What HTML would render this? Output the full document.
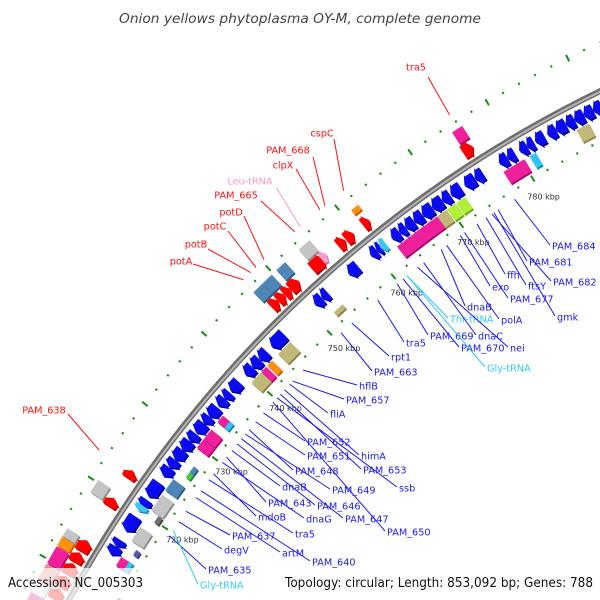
<!DOCTYPE html>
<html><head><meta charset="utf-8"><style>
html,body{margin:0;padding:0;background:#fff;width:600px;height:600px;overflow:hidden}
svg{display:block;overflow:hidden}
text{font-family:"DejaVu Sans","Liberation Sans",sans-serif}
</style></head><body>
<svg id="map" width="600" height="600" viewBox="0 0 600 600" xmlns="http://www.w3.org/2000/svg">
<defs><clipPath id="clip"><rect x="0" y="0" width="600" height="600"/></clipPath></defs>
<g id="plot" clip-path="url(#clip)"></g>
<text x="300" y="23" text-anchor="middle" font-size="13" font-style="italic" fill="#444" textLength="362" lengthAdjust="spacingAndGlyphs">Onion yellows phytoplasma OY-M, complete genome</text>
<rect x="0" y="568" width="150" height="32" fill="#fff" opacity="0.72"/>
<rect x="280" y="568" width="320" height="32" fill="#fff" opacity="0.72"/>
<text x="8" y="587" font-size="13" fill="#111" textLength="135" lengthAdjust="spacingAndGlyphs">Accession: NC_005303</text>
<text x="285" y="587" font-size="13" fill="#111" textLength="308" lengthAdjust="spacingAndGlyphs">Topology: circular; Length: 853,092 bp; Genes: 788</text>
</svg>
<script>
// ---- data (kbp) ----
const genomeKbp = 853.092;
const fwdArrowStart=[706.5,708,709.6,711.2,712.6,718.5,722.3,747.3,748.3,749.3,750.2,753.5,757.4,758.5,761,774.8];
const fwdArrowEnd=[707.8,709.4,711,712.4,714,719.6,723.3,748.3,749.3,750.2,751.5,755.3,758.4,759.6,761.9,776.1];
const trnaFwdStart=[755.0];
const trnaFwdEnd=[755.8];
const revArrowStart=[714.0,715.1,717.2,720.5,721.9,724.8,726.0,727.1,728.5,729.8,731.0,732.4,733.4,735.0,736.1,737.2,739.7,740.9,742.1,744.1,751.0,752.1,756.2,759.5,760.4,762.6,763.7,764.6,765.8,767.0,768.4,769.8,771.0,772.9,774.3,777.6,778.7,780.3,781.3,782.4,784.0,785.1,786.4,787.5,788.7,789.9,791.0,792.2];
const revArrowEnd=[715.1,716.0,719.2,721.5,723.9,726.0,727.1,728.5,729.8,730.9,732.4,733.4,734.8,736.1,737.0,738.6,740.9,742.1,743.3,746.1,752.1,753.0,757.6,760.4,761.0,763.7,764.6,765.8,767.0,768.4,769.8,770.9,772.4,774.3,775.4,778.7,779.7,781.3,782.2,783.6,785.1,786.4,787.5,788.7,789.9,791.0,792.2,793.4];
const trnaRevStart=[719.9,760.9];
const trnaRevEnd=[720.7,761.7];
const fwdBoxStart=[704,706,707.5,709.6,711.8,713,718.7,747,748.4,750.5,753.8,775];
const fwdBoxEnd=[706,707.5,709.5,711.7,713,714,720.3,748.4,749.8,751.8,755.4,776.3];
const fwdBoxColor=['pink','lgray','salmon','pink','orange','gray','gray','steel','steel','steel','gray','pink'];
const fwdThinStart=[761.0];
const fwdThinEnd=[762.0];
const fwdThinColor=['orange'];
const revBoxStart=[713.2,716.6,720.8,723.6,729.7,731.0,733.5,739.5,741.2,742.2,744.0,762.5,763.9,765.3,766.7,768.3,769.7,771.0,777.5,778.9,781.0,787.2];
const revBoxEnd=[714.4,718.5,723.0,725.2,731.0,732.4,734.5,741.2,742.0,743.0,746.0,763.9,765.3,766.7,768.3,769.6,770.9,772.2,778.9,780.3,781.8,788.8];
const revBoxColor=['pink','gray','gray','steel','pink','pink','pink','tan','pink','orange','tan','pink','pink','pink','pink','tan','lime','lime','pink','pink','cyan','tan'];
const revThinStart=[713.2,715.3,719.8,726.2,727.0,733.5,752.0];
const revThinEnd=[714.4,716.0,720.7,727.0,727.8,734.5,753.4];
const revThinColor=['cyan','purple','dgray','green','steel','cyan','tan'];
const tickStartKbp=690, tickEndKbp=800, tickDotStep=2, tickMajorStep=10;
const tickLabelKbp=[720,730,740,750,760,770,780];
// labels (layout)
const redNames=['tra5','cspC','PAM_668','clpX','Leu-tRNA','PAM_665','potD','potC','potB','potA','PAM_638'];
const redKbp=[775.8,761.7,759.1,758.4,755.6,754.8,750.3,749.1,748.3,747.2,723.0];
const redTX=[416,322,288,283,250,236,231,215,196,181,44];
const redTY=[67,133,150,165,181,195,212,226,244,261,410];
const redLX=[428,334,313,296,276,261,244,228,208,193,68];
const redLY=[77,139,157,169,187,201,216,231,249,264,414];
const blueNames=['PAM_684','PAM_681','PAM_682','gmk','ffh','ftsY','exo','PAM_677','dnaB','polA','Thr-tRNA','dnaC','PAM_669','nei','PAM_670','Gly-tRNA','tra5','rpt1','PAM_663','hflB','PAM_657','fliA','himA','PAM_653','ssb','PAM_650','PAM_652','PAM_651','PAM_648','PAM_649','PAM_647','PAM_646','dnaB','PAM_643','dnaG','mdoB','tra5','PAM_640','artM','PAM_637','degV','PAM_635','Gly-tRNA'];
const blueKbp=[776.9,774.6,773.7,774.0,771.6,772.9,769.2,769.8,766.4,767.2,761.3,763.8,759.8,762.9,760.7,761.3,756.8,752.7,751.0,744.7,742.9,742.4,741.5,740.8,740.2,739.5,737.8,736.4,735.2,734.5,733.8,733.0,732.0,731.0,730.2,728.5,727.6,726.0,725.0,723.0,721.5,719.5,720.3];
const blueTX=[552,529,553,557,507,528,492,510,467,501,450,478,430,510,461,487,406,391,374,359,346,330,361,363,399,387,307,307,295,332,345,317,282,268,306,258,295,312,282,232,224,208,200];
const blueTY=[246,262,282,317,275,286,287,299,307,320,319,336,336,348,348,368,343,357,372,386,400,414,456,470,488,532,442,456,471,490,519,506,487,503,519,517,534,562,553,536,550,570,585];
const blueCyan=['Thr-tRNA','Gly-tRNA'];

// ---- geometry ----
const CX=1126, CY=1172;
const R_BACK=1202, R_INNER_TICK=1157, R_OUTER_TICK=1246, R_TICKLABEL=1136;
const FA=[1209,1223], FB=[1225,1239], RA=[1181,1195], RB=[1164,1178];
const COLORS={pink:['#f0209c','#a0106a'],lgray:['#e4e4e4','#a8a8a8'],salmon:['#f08a8a','#b05a5a'],orange:['#ff9010','#b86000'],gray:['#c4c4c4','#8a8a8a'],steel:['#4f86b8','#2c5a86'],tan:['#c2b878','#8a8250'],lime:['#b0f038','#70a818'],cyan:['#30c8f0','#1088b0'],purple:['#5a5aa8','#33336a'],dgray:['#707070','#404040'],green:['#44cc44','#228822']};
function ang(k){return (-90 + k/genomeKbp*360)*Math.PI/180;}
function pt(k,r){const a=ang(k);return [CX+r*Math.cos(a), CY+r*Math.sin(a)];}
function f(p){return p[0].toFixed(2)+','+p[1].toFixed(2);}
const svgNS='http://www.w3.org/2000/svg';
const plot=document.getElementById('plot');
function mk(tag,attrs,parent){const e=document.createElementNS(svgNS,tag);for(const k in attrs)e.setAttribute(k,attrs[k]);(parent||plot).appendChild(e);return e;}
function boxPath(s,e,r1,r2){
  return 'M'+f(pt(s,r2))+' A'+r2+','+r2+' 0 0 1 '+f(pt(e,r2))+' L'+f(pt(e,r1))+' A'+r1+','+r1+' 0 0 0 '+f(pt(s,r1))+' Z';
}
function arrowPath(s,e,r1,r2,fwd){
  const tip=Math.min(0.6,(e-s)*0.6), rm=(r1+r2)/2;
  if(fwd){const b=e-tip;
    return 'M'+f(pt(s,r2))+' A'+r2+','+r2+' 0 0 1 '+f(pt(b,r2))+' L'+f(pt(b,r2+2))+' L'+f(pt(e,rm))+' L'+f(pt(b,r1-2))+' L'+f(pt(b,r1))+' A'+r1+','+r1+' 0 0 0 '+f(pt(s,r1))+' Z';}
  const b=s+tip;
  return 'M'+f(pt(e,r2))+' A'+r2+','+r2+' 0 0 0 '+f(pt(b,r2))+' L'+f(pt(b,r2+2))+' L'+f(pt(s,rm))+' L'+f(pt(b,r1-2))+' L'+f(pt(b,r1))+' A'+r1+','+r1+' 0 0 1 '+f(pt(e,r1))+' Z';
}
function drawShape(d,fill,shade,name){
  const sh=mk('path',{d:d,fill:shade,transform:'translate(1.2,1.6)'});
  
  
  const p=mk('path',{d:d,fill:fill});
  
  
}

// ticks
const tickG=mk('g',{});


for(let k=tickStartKbp;k<=tickEndKbp;k+=tickDotStep){
  [R_INNER_TICK,R_OUTER_TICK].forEach(r=>{
    const major=(k%tickMajorStep===0);
    const l=major?3.5:1.1;
    const ln=mk('line',{x1:pt(k,r-l)[0],y1:pt(k,r-l)[1],x2:pt(k,r+l)[0],y2:pt(k,r+l)[1],stroke:'#1a8a1a','stroke-width':2},tickG);
    
    
  });
}
tickLabelKbp.forEach(k=>{
  const p=pt(k,R_TICKLABEL);
  const t=mk('text',{x:p[0].toFixed(1),y:(p[1]+3).toFixed(1),'text-anchor':'middle','font-size':'8','fill':'#333'});
  t.textContent=k+' kbp';
  
  
});

// backbone
const bb1=mk('circle',{cx:CX,cy:CY,r:R_BACK,fill:'none',stroke:'#6e6e6e','stroke-width':6});


const bb2=mk('circle',{cx:CX,cy:CY,r:R_BACK-0.5,fill:'none',stroke:'#b4b4b4','stroke-width':2});



// label lines (beneath features)
for(let i=0;i<redNames.length;i++){
  const p=pt(redKbp[i],1255);
  const col=redNames[i]==='Leu-tRNA'?'#ff99cc':'#ff1010';
  const ln=mk('line',{x1:p[0],y1:p[1],x2:redLX[i],y2:redLY[i],stroke:col,'stroke-width':1});
  
  
  const t=mk('text',{x:redTX[i],y:redTY[i]+3.5,'text-anchor':'middle','font-size':'9.7',fill:col});
  t.textContent=redNames[i];
  
  
}
for(let i=0;i<blueNames.length;i++){
  const p=pt(blueKbp[i],1149);
  const cyan=blueCyan.indexOf(blueNames[i])>=0;
  const col=cyan?'#33ccee':'#1a1aee';
  const ln=mk('line',{x1:p[0],y1:p[1],x2:blueTX[i]-2,y2:blueTY[i]-1,stroke:col,'stroke-width':1});
  
  
  const t=mk('text',{x:blueTX[i],y:blueTY[i]+3.5,'font-size':'9.7',fill:col});
  t.textContent=blueNames[i];
  
  
}

// features
for(let i=0;i<fwdBoxStart.length;i++){const c=COLORS[fwdBoxColor[i]];drawShape(boxPath(fwdBoxStart[i],fwdBoxEnd[i],FB[0],FB[1]),c[0],c[1],'forward-feature');}
for(let i=0;i<fwdThinStart.length;i++){const c=COLORS[fwdThinColor[i]];drawShape(boxPath(fwdThinStart[i],fwdThinEnd[i],FB[0]+4,FB[1]-4),c[0],c[1],'forward-thin-feature');}
for(let i=0;i<fwdArrowStart.length;i++){drawShape(arrowPath(fwdArrowStart[i],fwdArrowEnd[i],FA[0],FA[1],true),'#ff0000','#a80000','forward-gene');}
for(let i=0;i<trnaFwdStart.length;i++){drawShape(arrowPath(trnaFwdStart[i],trnaFwdEnd[i],FA[0]+2,FA[1],true),'#ff9fd0','#c070a0','forward-trna');}
for(let i=0;i<revArrowStart.length;i++){drawShape(arrowPath(revArrowStart[i],revArrowEnd[i],RA[0],RA[1],false),'#0a0aee','#00008a','reverse-gene');}
for(let i=0;i<trnaRevStart.length;i++){drawShape(arrowPath(trnaRevStart[i],trnaRevEnd[i],RA[0],RA[1],false),'#40c8f4','#1888b0','reverse-trna');}
for(let i=0;i<revBoxStart.length;i++){const c=COLORS[revBoxColor[i]];drawShape(boxPath(revBoxStart[i],revBoxEnd[i],RB[0],RB[1]),c[0],c[1],'reverse-feature');}
for(let i=0;i<revThinStart.length;i++){const c=COLORS[revThinColor[i]];drawShape(boxPath(revThinStart[i],revThinEnd[i],RB[0],RB[0]+5),c[0],c[1],'reverse-thin-feature');}
</script>
</body></html>
